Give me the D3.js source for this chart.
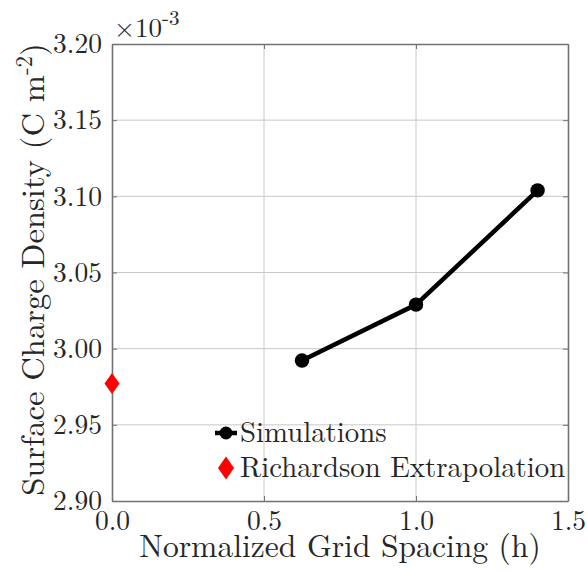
<!DOCTYPE html>
<html>
<head>
<meta charset="utf-8">
<script src="https://cdn.jsdelivr.net/npm/d3@7"></script>
<style>
  html, body { margin: 0; padding: 0; background: #fff; }
</style>
</head>
<body>
<svg id="chart" width="587" height="571"></svg>
<script>
// Grid spacing (normalized) and surface charge density (units of 1e-3 C m^-2)
const simH = [0.625, 1.0, 1.4];
const simSigma = [2.9922, 3.0289, 3.1039];
const richH = [0.0];
const richSigma = [2.9772];

const xTicks = [0, 0.5, 1.0, 1.5];
const yTicks = [2.90, 2.95, 3.00, 3.05, 3.10, 3.15, 3.20];

const legendLabels = ["Simulations", "Richardson Extrapolation"];

const FONT = "'Latin Modern Roman', 'CMU Serif', 'Liberation Serif', serif";
const TXT = "#262626";

const svg = d3.select("#chart");
const m = { left: 112, right: 568, top: 44, bottom: 501 };

const x = d3.scaleLinear().domain([0, 1.5]).range([m.left, m.right]);
const y = d3.scaleLinear().domain([2.90, 3.20]).range([m.bottom, m.top]);

const axisColor = "#727272";

// grid
const grid = svg.append("g");
grid.selectAll(".gx").data(xTicks.slice(1, -1)).join("line")
  .attr("x1", d => x(d)).attr("x2", d => x(d))
  .attr("y1", m.top).attr("y2", m.bottom)
  .attr("stroke", "#c8c8c8").attr("stroke-width", 1);
grid.selectAll(".gy").data(yTicks.slice(1, -1)).join("line")
  .attr("y1", d => y(d)).attr("y2", d => y(d))
  .attr("x1", m.left).attr("x2", m.right)
  .attr("stroke", "#c8c8c8").attr("stroke-width", 1);

// axes with inward ticks on all four sides
const xAxis = d3.axisBottom(x).tickValues(xTicks).tickFormat(d3.format(".1f")).tickSizeInner(-5).tickSizeOuter(0).tickPadding(9);
const yAxis = d3.axisLeft(y).tickValues(yTicks).tickFormat(d3.format(".2f")).tickSizeInner(-5).tickSizeOuter(0).tickPadding(10);
const xTop = d3.axisTop(x).tickValues(xTicks).tickFormat("").tickSizeInner(-5).tickSizeOuter(0);
const yRight = d3.axisRight(y).tickValues(yTicks).tickFormat("").tickSizeInner(-5).tickSizeOuter(0);

function style(g) {
  g.select(".domain").attr("stroke", axisColor).attr("stroke-width", 1.6);
  g.selectAll(".tick line").attr("stroke", axisColor).attr("stroke-width", 1);
  g.selectAll(".tick text").style("font-size", "27.5px").style("font-family", FONT).attr("fill", TXT);
}
svg.append("g").attr("transform", `translate(0,${m.bottom})`).call(xAxis).call(style);
svg.append("g").attr("transform", `translate(${m.left},0)`).call(yAxis).call(style);
svg.append("g").attr("transform", `translate(0,${m.top})`).call(xTop).call(style);
svg.append("g").attr("transform", `translate(${m.right},0)`).call(yRight).call(style);

// exponent multiplier
const ex = svg.append("text").attr("x", m.left + 2).attr("y", 37)
  .style("font-family", FONT).style("font-size", "27px").attr("fill", TXT);
ex.append("tspan").text("×10");
ex.append("tspan").attr("dy", -12).style("font-size", "21px").text("-3");

// axis labels
svg.append("text").attr("x", 340).attr("y", 557)
  .attr("text-anchor", "middle").style("font-family", FONT).style("font-size", "31.6px").attr("fill", TXT)
  .text("Normalized Grid Spacing (h)");

const yl = svg.append("text")
  .attr("transform", `translate(44,${(m.top + m.bottom) / 2 - 3}) rotate(-90)`)
  .attr("text-anchor", "middle").style("font-family", FONT).style("font-size", "32.6px").attr("fill", TXT);
yl.append("tspan").text("Surface Charge Density (C m");
yl.append("tspan").attr("dy", -12).style("font-size", "23px").text("-2");
yl.append("tspan").attr("dy", 12).text(")");

// simulation series
const line = d3.line().x((d, i) => x(simH[i])).y(d => y(d));
svg.append("path").datum(simSigma).attr("d", line)
  .attr("fill", "none").attr("stroke", "#000").attr("stroke-width", 4.5).attr("stroke-linejoin", "round");
svg.selectAll(".sim").data(simSigma).join("circle")
  .attr("cx", (d, i) => x(simH[i])).attr("cy", d => y(d)).attr("r", 7.2).attr("fill", "#000");

// Richardson extrapolation
const diamond = (cx, cy, w, h) => `M${cx},${cy - h}L${cx + w},${cy}L${cx},${cy + h}L${cx - w},${cy}Z`;
svg.selectAll(".rich").data(richSigma).join("path")
  .attr("d", (d, i) => diamond(x(richH[i]), y(d), 7.5, 10.5)).attr("fill", "#ff0000");

// legend
const lg = svg.append("g");
const lx = 226, ly1 = 433, ly2 = 468;
lg.append("line").attr("x1", lx - 11).attr("x2", lx + 11).attr("y1", ly1).attr("y2", ly1)
  .attr("stroke", "#000").attr("stroke-width", 4.5);
lg.append("circle").attr("cx", lx).attr("cy", ly1).attr("r", 6.5).attr("fill", "#000");
lg.append("path").attr("d", diamond(lx, ly2, 8, 11.5)).attr("fill", "#ff0000");
lg.selectAll(".lt").data(legendLabels).join("text")
  .attr("x", 240).attr("y", (d, i) => (i === 0 ? 442 : 477))
  .style("font-family", FONT).style("font-size", "28.8px").attr("fill", TXT).text(d => d);
</script>
</body>
</html>
